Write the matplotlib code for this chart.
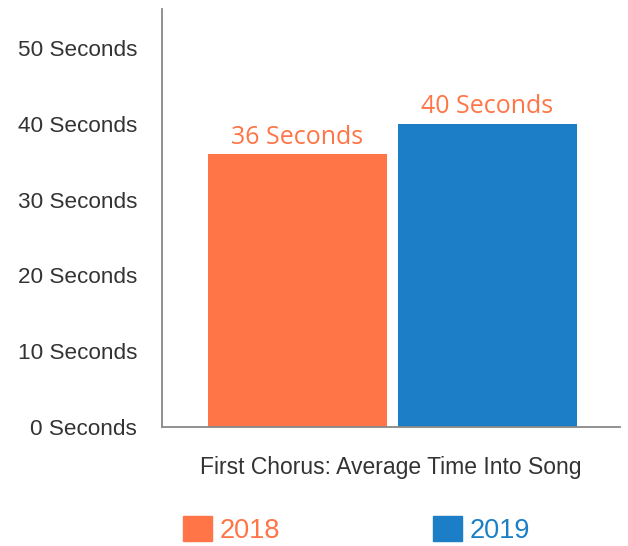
import matplotlib.pyplot as plt
from matplotlib.patches import Patch

# DATA
years = ["2018", "2019"]
seconds = [36, 40]
bar_labels = ["36 Seconds", "40 Seconds"]
ytick_values = [0, 10, 20, 30, 40, 50]
ytick_labels = ["0 Seconds", "10 Seconds", "20 Seconds", "30 Seconds", "40 Seconds", "50 Seconds"]
colors = ["#FF7547", "#1B7EC6"]

plt.rcParams["font.family"] = ["Liberation Sans", "DejaVu Sans"]

fig = plt.figure(figsize=(6.28, 5.46), dpi=100)
ax = fig.add_axes([0.258, 0.218, 0.729, 0.765])

x = list(range(len(years)))
ax.bar(x, seconds, width=0.94, color=colors)

# labels above bars
for xi, v, lab in zip(x, seconds, bar_labels):
    ax.text(xi, v + 0.6, lab, ha="center", va="bottom", fontsize=18,
            color="#FF7547", family=["Open Sans", "DejaVu Sans"])

ax.set_xlim(-0.713, 1.697)
ax.set_ylim(0, 55.1)
ax.set_yticks(ytick_values)
ax.set_yticklabels(ytick_labels)
ax.set_xticks([])
ax.tick_params(axis="y", length=0, pad=18, labelsize=16.2, labelcolor="#333333")

for s in ["top", "right"]:
    ax.spines[s].set_visible(False)
ax.spines["left"].set_color("#888888")
ax.spines["bottom"].set_color("#888888")
ax.spines["left"].set_linewidth(1.3)
ax.spines["bottom"].set_linewidth(1.3)

ax.set_xlabel("First Chorus: Average Time Into Song", fontsize=16.5, color="#333333", labelpad=21)

handles = [Patch(facecolor=c, edgecolor=c) for c in colors]
leg = fig.legend(handles, years, loc="center", bbox_to_anchor=(0.568, 0.029), ncol=2,
                 frameon=False, fontsize=19.5, handlelength=1.05, handleheight=1.05,
                 handletextpad=0.3, columnspacing=5.65)
for t, c in zip(leg.get_texts(), colors):
    t.set_color(c)

fig.savefig("out.png", dpi=100)
